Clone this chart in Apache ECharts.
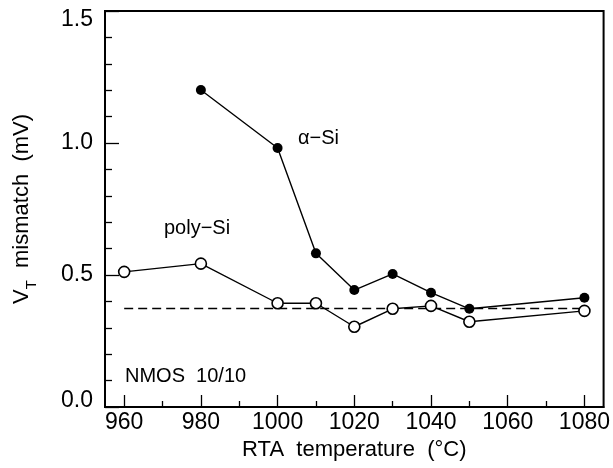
<!DOCTYPE html>
<html>
<head>
<meta charset="utf-8">
<script src="https://cdn.jsdelivr.net/npm/echarts@6/dist/echarts.min.js"></script>
<style>
html,body{margin:0;padding:0;background:#fff;}
#c{width:613px;height:468px;}
</style>
</head>
<body>
<div id="c"></div>
<script>
var temps = [960, 980, 1000, 1010, 1020, 1030, 1040, 1050, 1080];
var polySi = [0.512, 0.543, 0.393, 0.393, 0.304, 0.372, 0.383, 0.323, 0.364];
var alphaTemps = [980, 1000, 1010, 1020, 1030, 1040, 1050, 1080];
var alphaSi = [1.201, 0.981, 0.582, 0.443, 0.504, 0.433, 0.372, 0.414];
var refTemps = [960, 1080];
var refLevel = 0.373;
var xMajorTicks = [960, 980, 1000, 1020, 1040, 1060, 1080];
var xMinorTicks = [970, 990, 1010, 1030, 1050, 1070];

var FONT = 'Liberation Sans';
var chart = echarts.init(document.getElementById('c'));
chart.setOption({
  animation: false,
  backgroundColor: '#fff',
  grid: {left: 105, top: 11, right: 8, bottom: 61, show: true, borderColor: '#000', borderWidth: 2, backgroundColor: 'transparent'},
  xAxis: [{
    type: 'value', min: 955, max: 1085,
    axisLine: {show: true, lineStyle: {color: '#000', width: 2}},
    axisTick: {show: true, inside: true, length: 12, lineStyle: {color: '#000', width: 1.3}, customValues: xMajorTicks},
    axisLabel: {color: '#000', fontFamily: FONT, fontSize: 23, margin: 4, customValues: xMajorTicks,
      formatter: function(v){return String(v);}},
    splitLine: {show: false},
    name: 'RTA  temperature  (°C)', nameLocation: 'middle', nameGap: 30,
    nameTextStyle: {color: '#000', fontFamily: FONT, fontSize: 22}
  }, {
    type: 'value', min: 955, max: 1085, position: 'bottom',
    axisLine: {show: false},
    axisTick: {show: true, inside: true, length: 6, lineStyle: {color: '#000', width: 1.3}, customValues: xMinorTicks},
    axisLabel: {show: false},
    splitLine: {show: false}
  }],
  yAxis: {
    type: 'value', min: 0, max: 1.5, interval: 0.5,
    axisLine: {show: true, lineStyle: {color: '#000', width: 2}},
    axisTick: {show: true, inside: true, length: 14, lineStyle: {color: '#000', width: 1.3}},
    minorTick: {show: true, splitNumber: 5, length: 7, lineStyle: {color: '#000', width: 1.3}},
    axisLabel: {color: '#000', fontFamily: FONT, fontSize: 23, margin: 12,
      formatter: function(v){
        var s = v.toFixed(1);
        if (v >= 1.5) return '{hi|' + s + '}';
        if (v <= 0) return '{lo|' + s + '}';
        return s;
      },
      rich: {
        hi: {color: '#000', fontFamily: FONT, fontSize: 23, padding: [18, 0, 0, 0]},
        lo: {color: '#000', fontFamily: FONT, fontSize: 23, padding: [0, 0, 12, 0]}
      }
    },
    splitLine: {show: false},
    name: '{v|V}{s|T}{v|  mismatch  (mV)}', nameLocation: 'middle', nameGap: 72, nameRotate: 90,
    nameTextStyle: {
      color: '#000', fontFamily: FONT, fontSize: 22,
      rich: {
        v: {color: '#000', fontFamily: FONT, fontSize: 22, verticalAlign: 'bottom', lineHeight: 26},
        s: {color: '#000', fontFamily: FONT, fontSize: 15, verticalAlign: 'bottom', lineHeight: 26, padding: [0, 0, -6, 0]}
      }
    }
  },
  series: [{
    type: 'line', name: 'ref', xAxisIndex: 0,
    data: refTemps.map(function(t){return [t, refLevel];}),
    showSymbol: false, symbol: 'none',
    lineStyle: {color: '#000', width: 1.5, type: [9, 5]}, z: 1
  }, {
    type: 'line', name: 'poly-Si', xAxisIndex: 0,
    data: temps.map(function(t, i){return [t, polySi[i]];}),
    symbol: 'circle', symbolSize: 11,
    itemStyle: {color: '#fff', borderColor: '#000', borderWidth: 1.6},
    lineStyle: {color: '#000', width: 1.4}, z: 3
  }, {
    type: 'line', name: 'α-Si', xAxisIndex: 0,
    data: alphaTemps.map(function(t, i){return [t, alphaSi[i]];}),
    symbol: 'circle', symbolSize: 10,
    itemStyle: {color: '#000', borderColor: '#000', borderWidth: 0},
    lineStyle: {color: '#000', width: 1.4}, z: 4
  }],
  graphic: [
    {type: 'text', left: 298, top: 128, style: {text: 'α−Si', fill: '#000', font: '20px "Liberation Sans"'}},
    {type: 'text', left: 164, top: 218, style: {text: 'poly−Si', fill: '#000', font: '20px "Liberation Sans"'}},
    {type: 'text', left: 125, top: 366, style: {text: 'NMOS  10/10', fill: '#000', font: '20px "Liberation Sans"'}}
  ]
});
</script>
</body>
</html>
